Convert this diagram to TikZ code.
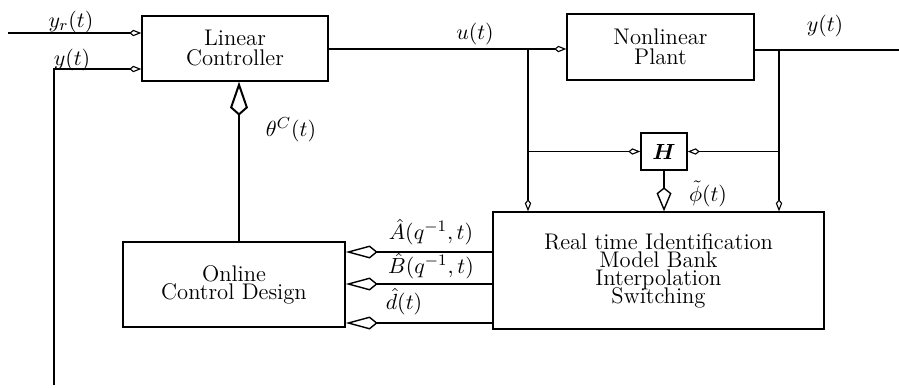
\documentclass[tikz,border=0pt]{standalone}
\usepackage{bm}
\usetikzlibrary{arrows.meta}
\newcommand\myboxfont{\fontsize{11.3}{9}\selectfont\lineskiplimit=-20pt\relax\lineskip=0pt\relax}
\begin{document}
\begin{tikzpicture}[x=0.5pt,y=-0.5pt,line width=0.55pt,
  box/.style={draw,line width=0.7pt,inner sep=0pt,align=center,font=\myboxfont},
  lbl/.style={inner sep=0pt,font=\fontsize{11.3}{13}\selectfont},
  sarr/.style={-{Kite[open,length=6pt,width=3.2pt,inset=2pt,line width=0.55pt]}},
  barr/.style={-{Kite[open,length=16pt,width=6.5pt,inset=4pt,line width=0.7pt]}},
  harr/.style={-{Kite[open,length=12pt,width=7.5pt,inset=3pt,line width=0.7pt]}},
  tharr/.style={line width=1.2pt,-{Kite[open,length=17pt,width=9pt,inset=4pt,line width=1pt]}}]
\path[use as bounding box] (0,0) rectangle (899,387);
% boxes
\node[box,minimum width=93pt,minimum height=32.5pt] (lc) at (235,48.5) {Linear\\[1pt]Controller};
\node[box,minimum width=93.5pt,minimum height=33pt] (plant) at (660.5,47) {Nonlinear\\[0.8pt]Plant};
\node[box,minimum width=23pt,minimum height=18.5pt] (H) at (664,151.5) {$\bm{H}$};
\node[box,minimum width=165.5pt,minimum height=58.5pt] (rti) at (658.5,270.5) {Real time Identification\\Model Bank\\Interpolation\\Switching};
\node[box,minimum width=111pt,minimum height=42.5pt] (ocd) at (234,284.5) {Online\\Control Design};
% coordinates
\coordinate (yrin) at (8,33);
\coordinate (fbb) at (54,385);
\coordinate (fbt) at (54,69);
\coordinate (ub) at (528,49);
\coordinate (hl) at (528,151.5);
\coordinate (yb) at (779,50);
\coordinate (yout) at (899,50);
\coordinate (th) at (239,242);
\coordinate (a1) at (493,252);
\coordinate (a2) at (493,284);
\coordinate (a3) at (493,323);
% connectors
\draw[sarr] (yrin) -- (yrin -| lc.west);
\draw[sarr] (fbb) -- (fbt) -- (fbt -| lc.west);
\draw[sarr] (lc.east |- ub) -- (ub -| plant.west);
\draw[sarr] (ub) -- (ub |- rti.north);
\draw[sarr] (hl) -- (H.west);
\draw (plant.east |- yb) -- (yout);
\draw[sarr] (yb) -- (yb |- rti.north);
\draw[sarr] (yb |- H.east) -- (H.east);
\draw[harr] (H.south) -- (H.south |- rti.north);
\draw[tharr] (th) -- (th |- lc.south);
\draw[barr] (a1 -| rti.west) -- (a1 -| ocd.east);
\draw[barr] (a2 -| rti.west) -- (a2 -| ocd.east);
\draw[barr] (a3 -| rti.west) -- (a3 -| ocd.east);
% labels
\node[lbl] (lyr) at (71,22) {$y_r(t)$};
\node[lbl] (ly) at (72,60) {$y(t)$};
\node[lbl] (lu) at (475,34) {$u(t)$};
\node[lbl] (lyo) at (825,26) {$y(t)$};
\node[lbl] (lth) at (291,130) {$\theta^C(t)$};
\node[lbl] (lphi) at (708,194) {$\tilde\phi(t)$};
\node[lbl] (la) at (431,232) {$\hat A(q^{-1},t)$};
\node[lbl] (lb) at (431,266) {$\hat B(q^{-1},t)$};
\node[lbl] (ld) at (404,302) {$\hat d(t)$};
\end{tikzpicture}
\end{document}
